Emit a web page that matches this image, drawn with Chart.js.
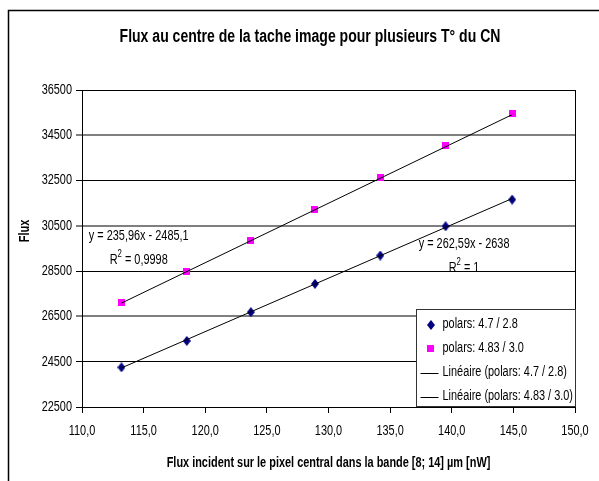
<!DOCTYPE html>
<html>
<head>
<meta charset="utf-8">
<script src="https://cdn.jsdelivr.net/npm/chart.js@4.4.0/dist/chart.umd.min.js"></script>
<style>
  body { margin: 0; background: #fff; }
  canvas { display: block; }
</style>
</head>
<body>
<canvas id="fluxChart" width="599" height="481"></canvas>
<script>
const FONT = "'Liberation Sans', Arial, sans-serif";
// no Arial Narrow here: text is squeezed horizontally instead
const NARROW = 0.78;

// flux incident sur le pixel central [nW]
const fluxIncident = [113.2, 118.5, 123.7, 128.9, 134.2, 139.5, 144.9];
// flux mesuré au centre de la tache, pour chaque réglage du CN
const fluxPolars47 = [24250, 25420, 26690, 27940, 29190, 30480, 31660];
const fluxPolars483 = [27100, 28500, 29840, 31240, 32640, 34030, 35460];
const seriesNames = ['polars: 4.7 / 2.8', 'polars: 4.83 / 3.0'];

// régressions linéaires (y = a.x + b)
const trendSlopes = [235.96, 262.59];
const trendIntercepts = [-2485.1, -2638];
const equationLabels = ['y = 235,96x - 2485,1', 'y = 262,59x - 2638'];
const r2Labels = ['0,9998', '1'];

const xTickLabels = ['110,0', '115,0', '120,0', '125,0', '130,0', '135,0', '140,0', '145,0', '150,0'];
const yTickLabels = ['22500', '24500', '26500', '28500', '30500', '32500', '34500', '36500'];

const NAVY = '#000080';
const MAGENTA = '#ff00ff';

function markerImage(w, h, color, diamond) {
  const c = document.createElement('canvas');
  c.width = w;
  c.height = h;
  const g = c.getContext('2d');
  g.fillStyle = color;
  if (diamond) {
    g.beginPath();
    g.moveTo(w / 2, 0);
    g.lineTo(w, h / 2);
    g.lineTo(w / 2, h);
    g.lineTo(0, h / 2);
    g.closePath();
    g.fill();
  } else {
    g.fillRect(0, 0, w, h);
  }
  return c;
}

const diamond = markerImage(8, 10, NAVY, true);
const square = markerImage(7, 7, MAGENTA, false);

function trendPoints(i) {
  const first = fluxIncident[0];
  const last = fluxIncident[fluxIncident.length - 1];
  return [
    { x: first, y: trendSlopes[i] * first + trendIntercepts[i] },
    { x: last, y: trendSlopes[i] * last + trendIntercepts[i] }
  ];
}

// squeeze every text drawn on the canvas (alignment is kept around the anchor)
const narrowText = {
  id: 'narrowText',
  beforeInit(chart) {
    const ctx = chart.ctx;
    const fill = ctx.fillText.bind(ctx);
    ctx.fillText = function (text, x, y) {
      this.save();
      this.translate(x, y);
      this.scale(NARROW, 1);
      fill(text, 0, 0);
      this.restore();
    };
  }
};

// fond blanc + cadre du graphique + titre
const frame = {
  id: 'frame',
  beforeDraw(chart) {
    const ctx = chart.ctx;
    ctx.save();
    ctx.fillStyle = '#fff';
    ctx.fillRect(0, 0, chart.width, chart.height);
    ctx.strokeStyle = '#000';
    ctx.lineWidth = 1.5;
    ctx.beginPath();
    ctx.moveTo(8.5, chart.height + 2);
    ctx.lineTo(8.5, 10.5);
    ctx.lineTo(chart.width + 2, 10.5);
    ctx.stroke();

    ctx.fillStyle = '#000';
    ctx.textAlign = 'center';
    ctx.textBaseline = 'middle';
    ctx.font = 'bold 18px ' + FONT;
    ctx.fillText('Flux au centre de la tache image pour plusieurs T° du CN', 310, 37);
    ctx.restore();
  }
};

function drawR2(ctx, text, cx, cy) {
  ctx.font = '14px ' + FONT;
  const rest = ' = ' + text;
  const wR = ctx.measureText('R').width * NARROW;
  const wRest = ctx.measureText(rest).width * NARROW;
  ctx.font = '10px ' + FONT;
  const w2 = ctx.measureText('2').width * NARROW;
  let x = cx - (wR + w2 + wRest) / 2;
  ctx.textAlign = 'left';
  ctx.font = '14px ' + FONT;
  ctx.fillText('R', x, cy);
  x += wR;
  ctx.font = '10px ' + FONT;
  ctx.fillText('2', x, cy - 6);
  x += w2;
  ctx.font = '14px ' + FONT;
  ctx.fillText(rest, x, cy);
}

// titre de l'axe Y, équations des droites et légende
const annotations = {
  id: 'annotations',
  afterDraw(chart) {
    const ctx = chart.ctx;
    const area = chart.chartArea;
    const xs = chart.scales.x;
    const ys = chart.scales.y;
    ctx.save();

    // bord droit de la zone de tracé
    ctx.strokeStyle = '#000';
    ctx.lineWidth = 1;
    ctx.beginPath();
    ctx.moveTo(Math.round(area.right) + 0.5, area.top);
    ctx.lineTo(Math.round(area.right) + 0.5, area.bottom);
    ctx.stroke();

    ctx.fillStyle = '#000';
    ctx.textBaseline = 'middle';

    ctx.save();
    ctx.translate(25, 231);
    ctx.rotate(-Math.PI / 2);
    ctx.textAlign = 'center';
    ctx.font = 'bold 14px ' + FONT;
    ctx.fillText('Flux', 0, 0);
    ctx.restore();

    // équations
    const eqPos = [[114.6, 30050], [141.0, 29690]];
    eqPos.forEach((p, i) => {
      const px = xs.getPixelForValue(p[0]);
      const py = ys.getPixelForValue(p[1]);
      ctx.textAlign = 'center';
      ctx.font = '14px ' + FONT;
      ctx.fillText(equationLabels[i], px, py);
      drawR2(ctx, r2Labels[i], px, py + 24);
    });

    // légende
    const lw = 159, lh = 97;
    const lx = Math.round(area.right) - lw + 0.5;
    const ly = Math.round(area.bottom) - lh - 0.5;
    ctx.fillStyle = '#fff';
    ctx.fillRect(lx, ly, lw, lh);
    ctx.strokeStyle = '#333';
    ctx.strokeRect(lx, ly, lw, lh);

    const items = [
      { text: seriesNames[0], marker: diamond },
      { text: seriesNames[1], marker: square },
      { text: 'Linéaire (' + seriesNames[0] + ')' },
      { text: 'Linéaire (' + seriesNames[1] + ')' }
    ];
    items.forEach((it, i) => {
      const cy = ly + 15 + i * 24;
      if (it.marker) {
        ctx.drawImage(it.marker, Math.round(lx + 14 - it.marker.width / 2), Math.round(cy - it.marker.height / 2));
      } else {
        ctx.strokeStyle = '#000';
        ctx.beginPath();
        ctx.moveTo(lx + 4, Math.round(cy) + 0.5);
        ctx.lineTo(lx + 22, Math.round(cy) + 0.5);
        ctx.stroke();
      }
      ctx.fillStyle = '#000';
      ctx.textAlign = 'left';
      ctx.font = '14px ' + FONT;
      ctx.fillText(it.text, lx + 26, cy);
    });

    ctx.restore();
  }
};

new Chart(document.getElementById('fluxChart'), {
  type: 'scatter',
  data: {
    datasets: [
      {
        label: seriesNames[0],
        data: fluxIncident.map((x, i) => ({ x, y: fluxPolars47[i] })),
        pointStyle: diamond,
        backgroundColor: NAVY,
        borderColor: NAVY,
        order: 2
      },
      {
        label: seriesNames[1],
        data: fluxIncident.map((x, i) => ({ x, y: fluxPolars483[i] })),
        pointStyle: square,
        backgroundColor: MAGENTA,
        borderColor: MAGENTA,
        order: 2
      },
      {
        label: 'Linéaire (' + seriesNames[0] + ')',
        data: trendPoints(0),
        showLine: true,
        borderColor: '#000',
        borderWidth: 1,
        pointRadius: 0,
        order: 1
      },
      {
        label: 'Linéaire (' + seriesNames[1] + ')',
        data: trendPoints(1),
        showLine: true,
        borderColor: '#000',
        borderWidth: 1,
        pointRadius: 0,
        order: 1
      }
    ]
  },
  options: {
    responsive: false,
    animation: false,
    layout: {
      padding: { left: 8, right: 24, top: 90, bottom: 0 }
    },
    plugins: {
      legend: { display: false },
      tooltip: { enabled: false },
      title: { display: false }
    },
    scales: {
      x: {
        type: 'linear',
        min: 110,
        max: 150,
        ticks: {
          stepSize: 5,
          color: '#000',
          padding: 10,
          maxRotation: 0,
          autoSkip: false,
          font: { family: FONT, size: 14 },
          callback: (v, i) => xTickLabels[i]
        },
        grid: {
          drawOnChartArea: false,
          drawTicks: true,
          tickLength: 6,
          color: '#000'
        },
        border: { display: true, color: '#000', width: 1 },
        title: {
          display: true,
          text: 'Flux incident sur le pixel central dans la bande [8; 14] µm [nW]',
          color: '#000',
          font: { family: FONT, size: 14, weight: 'bold' },
          padding: { top: 0, bottom: 9 }
        },
        afterFit: (scale) => {
          scale.height = 74;
          scale.paddingLeft = 0;
          scale.paddingRight = 0;
        }
      },
      y: {
        type: 'linear',
        min: 22500,
        max: 36500,
        ticks: {
          stepSize: 2000,
          color: '#000',
          padding: 4,
          font: { family: FONT, size: 14 },
          callback: (v, i) => yTickLabels[i]
        },
        grid: {
          tickLength: 6,
          color: (c) => (c.index > 0 && c.index % 2 === 0) ? '#7f7f7f' : '#000',
          lineWidth: (c) => (c.index > 0 && c.index % 2 === 0) ? 2 : 1
        },
        border: { display: true, color: '#000', width: 1 },
        afterFit: (scale) => {
          scale.width = 74;
          scale.paddingTop = 0;
          scale.paddingBottom = 0;
        }
      }
    }
  },
  plugins: [narrowText, frame, annotations]
});
</script>
</body>
</html>
